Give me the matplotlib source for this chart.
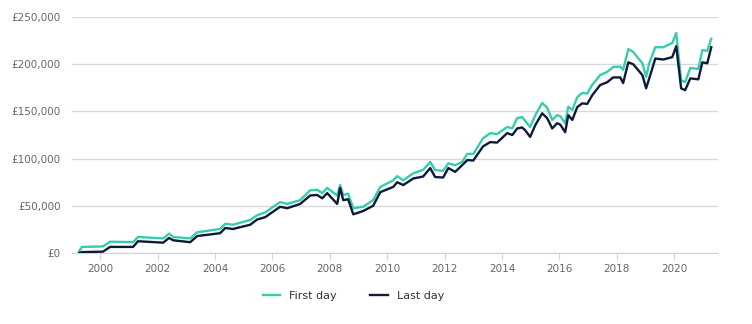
import numpy as np
import matplotlib.pyplot as plt
from matplotlib.ticker import FuncFormatter

# decimal years
dates = [1999.27, 1999.37, 2000.10, 2000.35, 2001.15, 2001.32, 2002.20, 2002.40, 2002.55, 2003.14,
         2003.38, 2004.18, 2004.36, 2004.63, 2005.23, 2005.47, 2005.75, 2006.27, 2006.52, 2006.97,
         2007.32, 2007.56, 2007.74, 2007.91, 2008.26, 2008.36, 2008.47, 2008.64, 2008.82, 2009.16,
         2009.51, 2009.76, 2010.21, 2010.35, 2010.56, 2010.91, 2011.25, 2011.50, 2011.67, 2011.95,
         2012.13, 2012.37, 2012.61, 2012.79, 2013.00, 2013.34, 2013.59, 2013.83, 2014.18, 2014.36,
         2014.53, 2014.70, 2014.81, 2014.98, 2015.16, 2015.40, 2015.57, 2015.75, 2015.92, 2016.03,
         2016.20, 2016.31, 2016.45, 2016.62, 2016.79, 2016.97, 2017.14, 2017.42, 2017.67, 2017.87,
         2018.12, 2018.22, 2018.40, 2018.57, 2018.89, 2019.02, 2019.13, 2019.34, 2019.62, 2019.93,
         2020.07, 2020.24, 2020.38, 2020.56, 2020.84, 2020.98, 2021.15, 2021.29]

first_day = [2000, 6500, 7000, 12000, 11500, 17000, 15500, 20500, 17000, 15500,
             22000, 25500, 31000, 30000, 35000, 40000, 43000, 54000, 52000, 56000,
             66500, 67000, 63500, 69000, 61000, 72000, 61500, 63000, 47500, 49000,
             56000, 70000, 77000, 81500, 77000, 84500, 88000, 96500, 88000, 87000,
             95000, 93000, 96500, 105000, 105000, 121500, 127000, 126000, 133500, 132000,
             143000, 144000, 140000, 133500, 146000, 159000, 154000, 141000, 146000, 145000,
             137500, 155000, 151500, 165000, 169500, 169000, 178000, 188500, 192000, 197000,
             197500, 194000, 216000, 213000, 201000, 186500, 201000, 218000, 218000, 222500,
             233000, 183000, 181000, 196000, 195000, 215000, 214000, 227000]

last_day = [0, 1000, 1500, 6500, 6500, 12500, 11000, 16000, 13500, 11500,
            18000, 21000, 26500, 25500, 30000, 35500, 38000, 49000, 47500, 52000,
            61000, 61500, 58000, 63500, 52000, 69000, 56000, 57000, 41000, 44500,
            50000, 64500, 70000, 75000, 72000, 79000, 81000, 90000, 80500, 80000,
            90000, 86000, 93000, 98500, 98000, 113000, 117500, 117000, 127000, 125000,
            132000, 133000, 130000, 123000, 135500, 148000, 143000, 132000, 137500, 136000,
            128000, 146000, 141000, 154500, 158500, 158000, 167000, 178000, 181000, 186000,
            186000, 180000, 202000, 200000, 188500, 174500, 185000, 206000, 205000, 207500,
            219000, 174500, 172500, 185000, 184000, 202000, 201000, 218000]

fig = plt.figure(figsize=(7.52, 3.24), dpi=100)
ax = fig.add_axes([0.0957, 0.219, 0.8593, 0.7285])

ax.plot(dates, first_day, color="#36cdaa", lw=1.7, label="First day", zorder=3)
ax.plot(dates, last_day, color="#0e1a3a", lw=1.7, label="Last day", zorder=4)

ax.set_xlim(1999.02, 2021.53)
ax.set_ylim(0, 250000)
ax.set_yticks(np.arange(0, 250001, 50000))
ax.yaxis.set_major_formatter(FuncFormatter(lambda v, p: "£{:,.0f}".format(v)))
ax.set_xticks(range(2000, 2021, 2))

ax.grid(axis="y", color="#d5d8dc", lw=1)
ax.set_axisbelow(True)
for s in ["top", "right", "left"]:
    ax.spines[s].set_visible(False)
ax.spines["bottom"].set_color("#ccd3dc")
ax.tick_params(axis="y", length=0, labelsize=7.5, labelcolor="#666666", pad=8)
ax.tick_params(axis="x", length=5, color="#ccd3dc", labelsize=7.5, labelcolor="#666666", pad=3)

fig.legend(loc="center", bbox_to_anchor=(0.47, 0.086), ncol=2, frameon=False,
           fontsize=8, handlelength=1.6, columnspacing=3.0, labelcolor="#333333")

fig.savefig("out.png", dpi=100)
